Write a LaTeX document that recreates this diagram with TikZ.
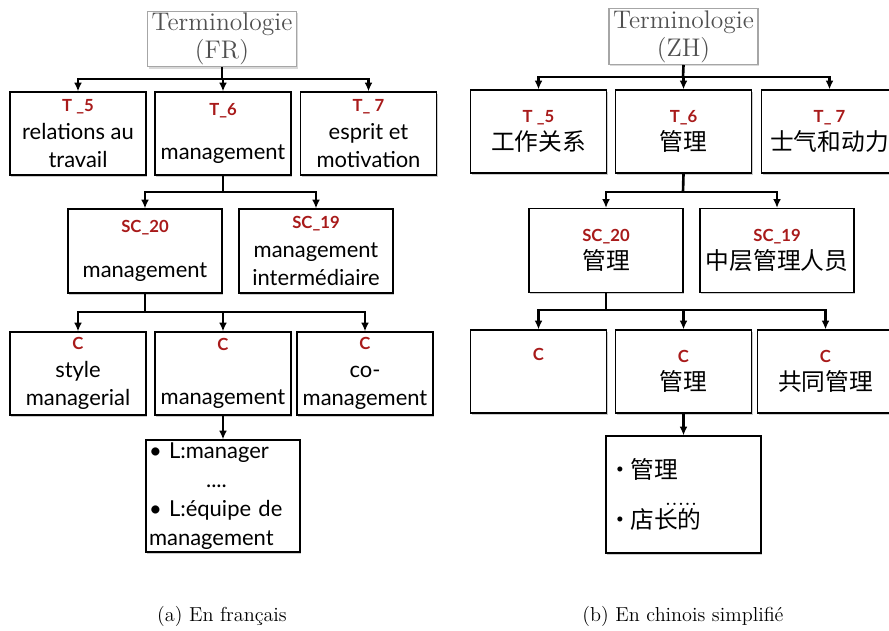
\documentclass[tikz,border=0pt]{standalone}
\usepackage{fontspec}
\setsansfont{Lato}
\newfontfamily\cjk{Noto Sans CJK SC}
\usetikzlibrary{arrows.meta, shadows, positioning}
\definecolor{codered}{RGB}{168,26,26}
\definecolor{rootgray}{RGB}{80,80,80}
\newcommand{\code}[1]{{\sffamily\bfseries\fontsize{9.5}{11}\selectfont\color{codered}#1}}

\begin{document}
\begin{tikzpicture}[x=0.02cm, y=-0.02cm,
  box/.style={draw=black, line width=0.7pt, fill=white, align=center, inner sep=1pt,
    drop shadow={shadow xshift=0.8pt, shadow yshift=-1pt, opacity=0.4},
    font=\sffamily\fontsize{12.5}{16}\selectfont},
  tbox/.style={box, minimum width=2.72cm, minimum height=1.66cm},
  scbox/.style={box, minimum width=3.08cm, minimum height=1.68cm},
  rootbox/.style={draw=black!35, line width=0.7pt, fill=white, text=rootgray, align=center,
    minimum width=2.98cm, minimum height=1.08cm, inner sep=1pt,
    drop shadow={shadow xshift=0.8pt, shadow yshift=-1pt, opacity=0.3},
    font=\fontsize{14.5}{16}\selectfont},
  link/.style={line width=1.5pt},
  conn/.style={link, -{Latex[length=5pt, width=4.5pt]}},
  caption/.style={font=\fontsize{11.5}{13}\selectfont}]
\useasboundingbox (0,0) rectangle (889,630);

% French tree
\node[rootbox] (rootfr) at (222,39) {Terminologie\\(FR)};
\node[tbox] (t5fr) at (78,133.5) {\code{T \_5}\\relations au\\travail};
\node[tbox] (t6fr) at (223,133.5) {\code{T\_6}\\[9.5pt]management};
\node[tbox] (t7fr) at (368.5,133.5) {\code{T\_ 7}\\esprit et\\motivation};
\node[scbox] (sc20fr) at (145,251) {\code{SC\_20}\\[9.5pt]management};
\node[scbox] (sc19fr) at (316,251) {\code{SC\_19}\\management\\interm\'ediaire};
\node[tbox] (c1fr) at (78,373.5) {\code{C}\\style\\managerial};
\node[tbox] (c2fr) at (223,373.5) {\code{C}\\[14.6pt]management};
\node[tbox] (c3fr) at (365,373.5) {\code{C}\\co-\\management};
\node[box, text width=2.96cm, inner xsep=0.06cm, minimum height=2.24cm, align=left,
  font=\sffamily\fontsize{12.5}{16.4}\selectfont] (lfr) at (223,496)
  {\textbullet\ L:manager\\\hspace*{2.6em}....\\\textbullet\ L:\'equipe de\\management};
\node[caption] (capfr) at (222,616) {(a) En fran\c{c}ais};

\coordinate (barfr1) at (222,79);
\coordinate (barfr2) at (223,192);
\coordinate (barfr3) at (145,312);
\draw[link] (rootfr.south) -- (barfr1);
\foreach \n in {t5fr,t6fr,t7fr} \draw[conn] (barfr1) -| (\n.north);
\draw[link] (t6fr.south) -- (barfr2);
\foreach \n in {sc20fr,sc19fr} \draw[conn] (barfr2) -| (\n.north);
\draw[link] (sc20fr.south) -- (barfr3);
\foreach \n in {c1fr,c2fr,c3fr} \draw[conn] (barfr3) -| (\n.north);
\draw[conn] (c2fr.south) -- (lfr.north);

% Chinese tree
\node[rootbox] (rootzh) at (683.5,36.5) {Terminologie\\(ZH)};
\node[tbox] (t5zh) at (538.5,131.5) {\code{T \_5}\\{\cjk\fontsize{13.5}{15}\selectfont 工作关系}};
\node[tbox] (t6zh) at (683.5,131.5) {\code{T\_6}\\{\cjk\fontsize{13.5}{15}\selectfont 管理}};
\node[tbox] (t7zh) at (829.5,131.5) {\code{T\_ 7}\\{\cjk\fontsize{13.5}{15}\selectfont 士气和动力}};
\node[scbox] (sc20zh) at (606,250.5) {\code{SC\_20}\\{\cjk\fontsize{13.5}{15}\selectfont 管理}};
\node[scbox] (sc19zh) at (777,250.5) {\code{SC\_19}\\{\cjk\fontsize{13.5}{15}\selectfont 中层管理人员}};
\node[tbox] (c1zh) at (538.5,371.5) {\code{C}\\[3pt]\mbox{}};
\node[tbox] (c2zh) at (683.5,371.5) {\code{C}\\{\cjk\fontsize{13.5}{15}\selectfont 管理}};
\node[tbox] (c3zh) at (825.5,371.5) {\code{C}\\{\cjk\fontsize{13.5}{15}\selectfont 共同管理}};
\node[box, text width=3.02cm, inner xsep=0.04cm, minimum height=2.34cm, align=left,
  font=\cjk\fontsize{13.5}{16}\selectfont] (lzh) at (683.5,494.5)
  {·\hspace{-0.05em}管理\\[-1pt]\hspace*{2.4em}{\rmfamily.....}\\[-3pt]·\hspace{-0.05em}店长的};
\node[caption] (capzh) at (683,616) {(b) En chinois simplifi\'e};

\coordinate (barzh1) at (683,77);
\coordinate (barzh2) at (683,192);
\coordinate (barzh3) at (606,310);
\draw[link] (rootzh.south) -- (barzh1);
\foreach \n in {t5zh,t6zh,t7zh} \draw[conn] (barzh1) -| (\n.north);
\draw[link] (t6zh.south) -- (barzh2);
\foreach \n in {sc20zh,sc19zh} \draw[conn] (barzh2) -| (\n.north);
\draw[link] (sc20zh.south) -- (barzh3);
\foreach \n in {c1zh,c2zh,c3zh} \draw[conn] (barzh3) -| (\n.north);
\draw[conn] (c2zh.south) -- (lzh.north);
\end{tikzpicture}
\end{document}
